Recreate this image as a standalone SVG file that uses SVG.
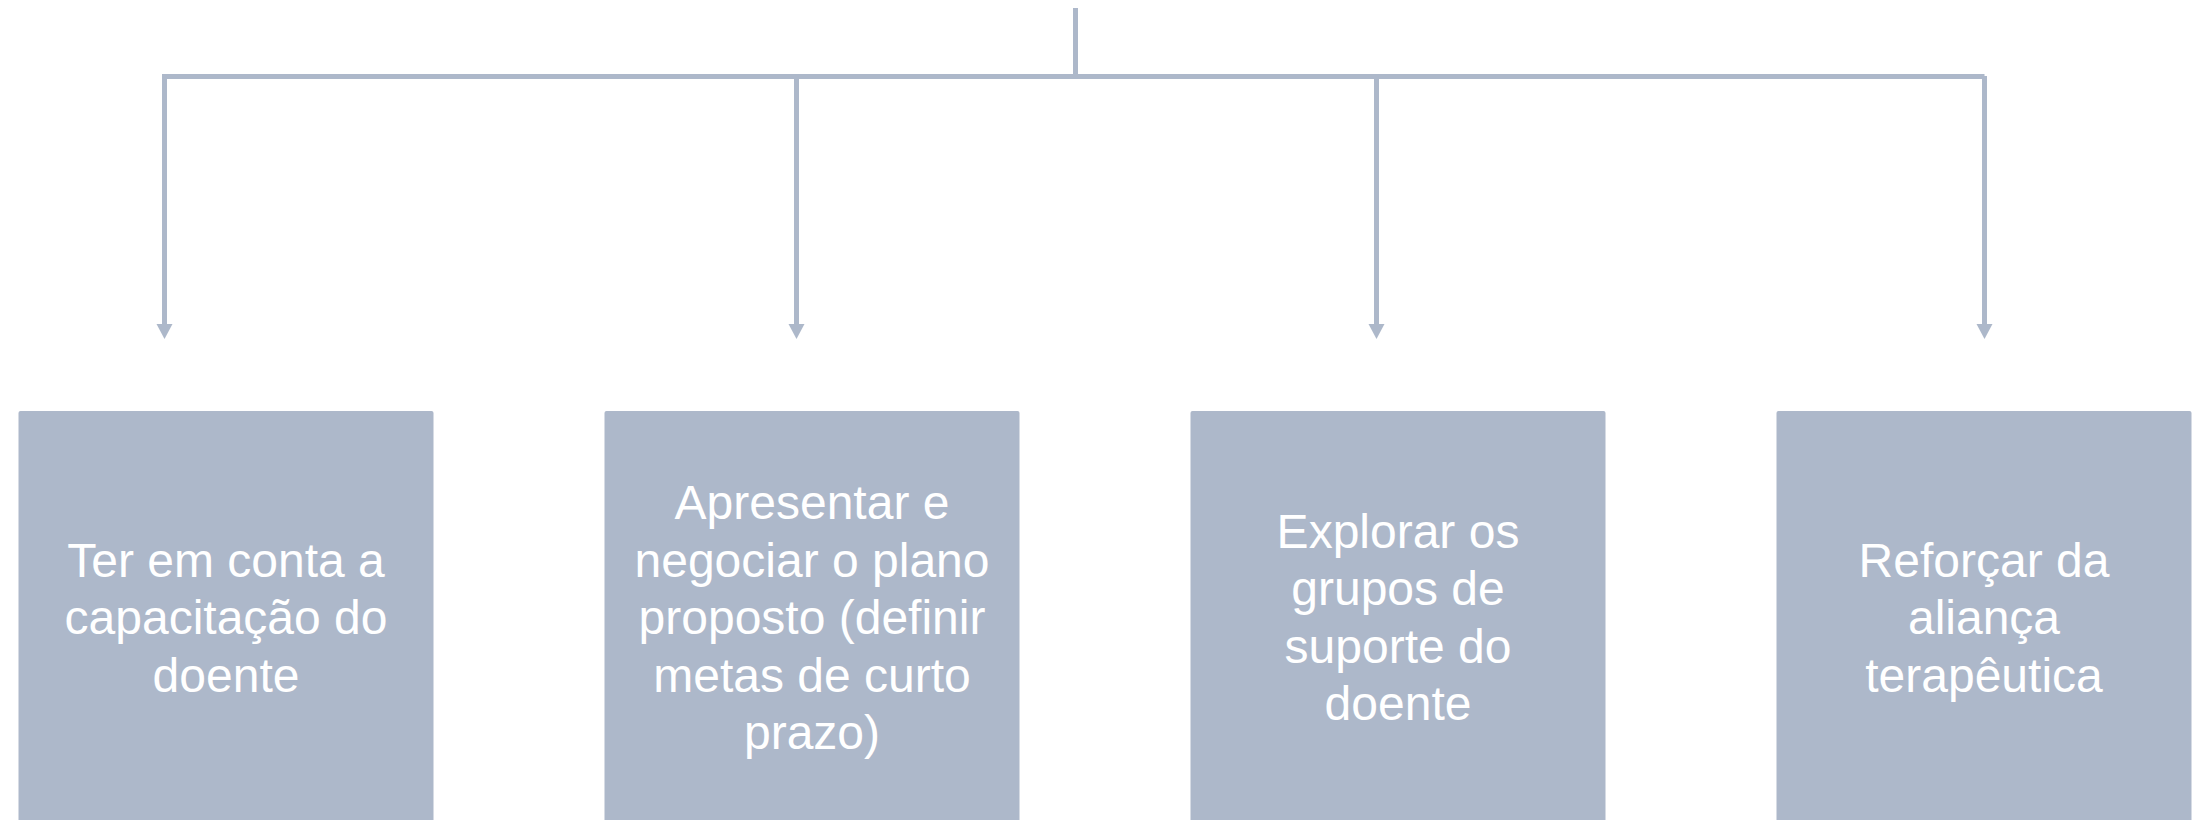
<svg xmlns="http://www.w3.org/2000/svg" width="2209" height="820" viewBox="0 0 2209 820">
<style>
.bg{fill:#ffffff}
.box{fill:#adb8ca}
.lbl{fill:#ffffff;font-family:"Liberation Sans",Arial,Helvetica,sans-serif;font-size:48px;text-anchor:middle}
.ln{stroke:#adb8ca;stroke-width:5;fill:none}
</style>
<defs>
<marker id="ah" markerUnits="userSpaceOnUse" markerWidth="16" markerHeight="17" refX="0" refY="8" orient="auto" viewBox="0 0 16 17" overflow="visible">
<path d="M0,0 L15,8 L0,16 z" fill="#adb8ca"/>
</marker>
</defs>
<rect class="bg" x="0" y="0" width="2209" height="820"/>
<g id="connectors">
<line class="ln" x1="1075.5" y1="8" x2="1075.5" y2="76.5"/>
<line class="ln" x1="162" y1="76.5" x2="1984.5" y2="76.5"/>
<line class="ln" x1="164.5" y1="74" x2="164.5" y2="324" marker-end="url(#ah)"/>
<line class="ln" x1="796.5" y1="76.5" x2="796.5" y2="324" marker-end="url(#ah)"/>
<line class="ln" x1="1376.5" y1="76.5" x2="1376.5" y2="324" marker-end="url(#ah)"/>
<line class="ln" x1="1984.5" y1="76" x2="1984.5" y2="324" marker-end="url(#ah)"/>
</g>
<g id="node1">
<rect class="box" x="18.5" y="411" width="415" height="415" rx="2"/>
<text class="lbl"><tspan x="226" y="576.5">Ter em conta a</tspan><tspan x="226" y="634">capacitação do</tspan><tspan x="226" y="691.5">doente</tspan></text>
</g>
<g id="node2">
<rect class="box" x="604.5" y="411" width="415" height="415" rx="2"/>
<text class="lbl"><tspan x="812" y="519">Apresentar e</tspan><tspan x="812" y="576.5">negociar o plano</tspan><tspan x="812" y="634">proposto (definir</tspan><tspan x="812" y="691.5">metas de curto</tspan><tspan x="812" y="749">prazo)</tspan></text>
</g>
<g id="node3">
<rect class="box" x="1190.5" y="411" width="415" height="415" rx="2"/>
<text class="lbl"><tspan x="1398" y="547.5">Explorar os</tspan><tspan x="1398" y="605">grupos de</tspan><tspan x="1398" y="662.5">suporte do</tspan><tspan x="1398" y="720">doente</tspan></text>
</g>
<g id="node4">
<rect class="box" x="1776.5" y="411" width="415" height="415" rx="2"/>
<text class="lbl"><tspan x="1984" y="576.5">Reforçar da</tspan><tspan x="1984" y="634">aliança</tspan><tspan x="1984" y="691.5">terapêutica</tspan></text>
</g>
</svg>
